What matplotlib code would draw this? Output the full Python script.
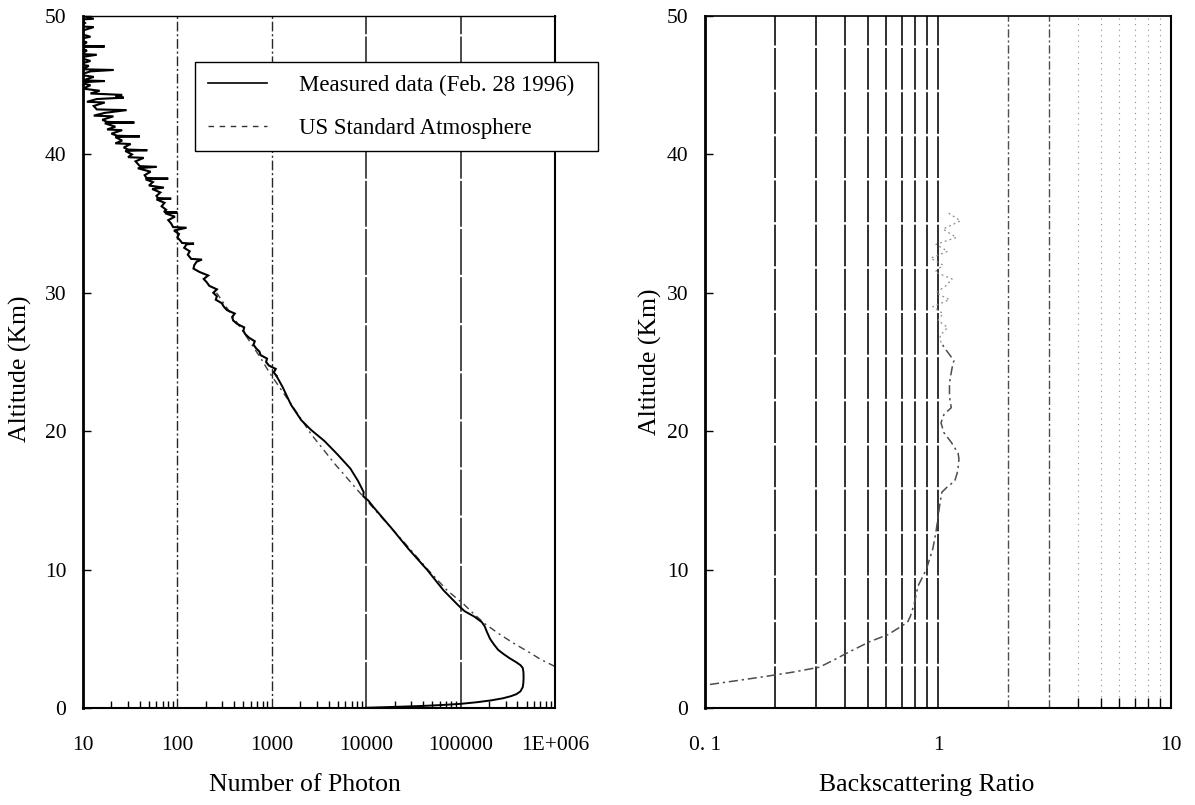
import matplotlib
matplotlib.use('Agg')
import matplotlib.pyplot as plt
from matplotlib.lines import Line2D
from matplotlib.ticker import FixedLocator, NullFormatter, NullLocator

plt.rcParams['font.family'] = ['Liberation Serif', 'DejaVu Serif']

# ---------------- data ----------------
# measured photon counts, lower (smooth) part
meas_alt_low = [0.02, 0.08, 0.15, 0.22, 0.3, 0.42, 0.55, 0.7, 0.85, 1.0, 1.2, 1.5,
                1.8, 2.2, 2.6, 2.9, 3.1, 3.3, 3.6, 3.9, 4.2, 4.6, 5.0, 5.5, 5.9,
                6.2, 6.6, 7.0, 7.4, 8.5, 10.0, 11.5, 13.0, 14.5, 15.0, 15.3, 15.6,
                16.4, 17.3, 18.3, 19.3, 20.1, 20.8, 21.9, 23.2, 24.0]
meas_photon_low = [10000, 20000, 40000, 65000, 100000, 150000, 210000, 280000,
                   340000, 390000, 430000, 455000, 462000, 465000, 463000, 455000,
                   430000, 390000, 330000, 285000, 250000, 225000, 205000, 190000,
                   180000, 168000, 140000, 110000, 95000, 66000, 44000, 28000,
                   18500, 12000, 10500, 9300, 9400, 8200, 6800, 5000, 3600, 2600,
                   2050, 1600, 1300, 1120]

# measured photon counts, upper (noisy) part
meas_alt_high = [24.0, 24.25, 24.5, 24.75, 25.0, 25.25, 25.5, 25.75, 26.0, 26.25,
                 26.5, 26.75, 27.0, 27.25, 27.5, 27.75, 28.0, 28.25, 28.5, 28.75,
                 29.0, 29.25, 29.5, 29.75, 30.0, 30.25, 30.5, 30.75, 31.0, 31.25,
                 31.5, 31.75, 32.0, 32.25, 32.4, 32.45, 32.75, 33.0, 33.25, 33.5,
                 33.55, 33.6, 33.75, 34.0, 34.25, 34.5, 34.7, 34.75, 35.0, 35.25,
                 35.5, 35.75, 35.8, 35.85, 36.0, 36.25, 36.5, 36.75, 36.8, 36.85,
                 37.0, 37.25, 37.5, 37.6, 37.75, 38.0, 38.2, 38.25, 38.3, 38.5,
                 38.75, 39.0, 39.1, 39.15, 39.5, 39.75, 39.8, 40.0, 40.25, 40.3,
                 40.35, 40.5, 40.75, 40.8, 41.0, 41.25, 41.3, 41.35, 41.5, 41.75,
                 41.8, 42.0, 42.25, 42.3, 42.35, 42.5, 42.75, 42.8, 43.0, 43.2,
                 43.25, 43.5, 43.75, 43.8, 44.0, 44.1, 44.2, 44.3, 44.4, 44.6,
                 44.75, 45.0, 45.2, 45.3, 45.35, 45.6, 45.75, 46.0, 46.1, 46.15,
                 46.4, 46.5, 46.75, 47.0, 47.2, 47.25, 47.5, 47.75, 47.8, 47.85,
                 48.1, 48.3, 48.5, 48.75, 49.0, 49.2, 49.25, 49.5, 49.75, 49.8,
                 50.0]
meas_photon_high = [1120, 1050, 1100, 930, 870, 890, 760, 740, 680, 640,
                    660, 575, 525, 500, 510, 430, 390, 380, 405, 335,
                    310, 295, 255, 262, 240, 262, 218, 205, 190, 212,
                    172, 148, 151, 160, 182, 140, 129, 135, 118, 125,
                    150, 112, 108, 100, 104, 92, 125, 90, 86, 80,
                    94, 74, 100, 72, 76, 68, 73, 60, 86, 62,
                    60, 66, 54, 72, 50, 55, 46, 80, 47, 45,
                    52, 38, 60, 40, 36, 44, 30, 33, 28, 48,
                    30, 27, 32, 22, 26, 22, 40, 23, 20, 26,
                    18, 22, 17, 35, 18, 16, 21, 13, 17, 29,
                    14, 13, 17, 11, 14, 27, 22, 26, 12, 15,
                    10, 12, 9, 17, 10, 13, 9.2, 12, 21, 10,
                    11.5, 8.8, 12, 9, 14, 9.5, 11, 9, 17, 9.5,
                    11, 8.5, 12, 9, 10.5, 13, 9, 10.5, 9.5, 13,
                    10]

# US standard atmosphere
std_alt = [3.0, 3.5, 4.0, 4.7, 5.4, 6.1, 6.8, 7.5, 8.5, 10.0, 12.0, 14.0, 15.7,
           17.6, 19.8, 21.2, 22.1, 24.2, 25.3, 27.0, 30.0]
std_photon = [1000000, 710000, 540000, 360000, 250000, 180000, 138000, 108000,
              72000, 45000, 25000, 13600, 8200, 4700, 2600, 1900, 1550, 950, 760,
              520, 260]

# backscattering ratio
bsr_alt_low = [1.7, 2.0, 2.3, 2.6, 2.95, 3.5, 4.0, 4.8, 5.3, 5.8, 6.2, 6.6, 7.5,
               8.8, 10.0, 11.5, 12.7, 13.8, 14.8, 15.6, 16.0, 16.4, 17.0, 17.4,
               18.0, 18.4, 19.2, 19.9, 20.6, 21.2, 21.7, 22.5, 23.5, 24.6, 25.1,
               25.9, 26.4]
bsr_ratio_low = [0.105, 0.14, 0.185, 0.24, 0.31, 0.36, 0.41, 0.51, 0.61, 0.68,
                 0.74, 0.76, 0.79, 0.82, 0.89, 0.95, 0.98, 1.0, 1.02, 1.04, 1.1,
                 1.18, 1.21, 1.22, 1.23, 1.22, 1.14, 1.06, 1.03, 1.06, 1.14, 1.12,
                 1.12, 1.15, 1.17, 1.08, 1.03]
bsr_alt_high = [26.4, 26.9, 27.5, 28.0, 28.5, 29.0, 29.5, 30.0, 30.5, 31.0, 31.5,
                32.0, 32.5, 33.0, 33.5, 34.0, 34.6, 35.2, 35.8]
bsr_ratio_high = [1.03, 1.02, 1.1, 1.0, 1.05, 0.95, 1.12, 0.98, 1.08, 1.15, 0.97,
                  1.05, 0.93, 1.1, 0.98, 1.2, 1.05, 1.25, 1.1]

photon_ticks = [10, 100, 1000, 10000, 100000, 1000000]
photon_ticklabels = ['10', '100', '1000', '10000', '100000', '1E+006']
ratio_ticks = [0.1, 1, 10]
ratio_ticklabels = ['0. 1', '1', '10']
alt_ticks = [0, 10, 20, 30, 40, 50]
alt_ticklabels = ['0', '10', '20', '30', '40', '50']

photon_grid_dashdot = [100, 1000]
photon_grid_solid = [10000, 100000]
ratio_grid_dark = [0.2, 0.3, 0.4, 0.5, 0.6, 0.7, 0.8, 0.9, 1]
ratio_grid_mid = [2, 3]
ratio_grid_faint = [4, 5, 6, 7, 8, 9]
photon_minor = [20, 30, 40, 50, 60, 70, 80, 90,
                200, 300, 400, 500, 600, 700, 800, 900,
                2000, 3000, 4000, 5000, 6000, 7000, 8000, 9000,
                20000, 30000, 40000, 50000, 60000, 70000, 80000, 90000,
                200000, 300000, 400000, 500000, 600000, 700000, 800000, 900000]
ratio_minor = [4, 5, 6, 7, 8, 9]

# ---------------- figure ----------------
W, H = 1195, 805
fig = plt.figure(figsize=(W / 100, H / 100), dpi=100)
ax1 = fig.add_axes([83 / W, 1 - 708 / H, 472 / W, 692 / H])
ax2 = fig.add_axes([705 / W, 1 - 708 / H, 466 / W, 692 / H])

TICK_FS = 15.5
LABEL_FS = 18.5

# ---- left panel ----
ax1.set_xscale('log')
ax1.set_xlim(10, 1e6)
ax1.set_ylim(0, 50)
for v in photon_grid_dashdot:
    ax1.axvline(v, color='0.15', lw=1.0, ls=(0, (7, 2, 1.5, 2)), zorder=1)
for v in photon_grid_solid:
    ax1.axvline(v, color='0.1', lw=1.1, ls=(0, (30, 1.5)), zorder=1)

ax1.plot(meas_photon_low, meas_alt_low, color='black', lw=1.4, zorder=3)
ax1.plot(meas_photon_high, meas_alt_high, color='black', lw=1.5,
         solid_joinstyle='miter', zorder=3)
ax1.plot(std_photon, std_alt, color='0.25', lw=1.0, ls=(0, (5, 3, 1.5, 3)), zorder=2)

ax1.xaxis.set_major_locator(FixedLocator(photon_ticks))
ax1.set_xticklabels(photon_ticklabels)
ax1.xaxis.set_minor_locator(FixedLocator(photon_minor))
ax1.xaxis.set_minor_formatter(NullFormatter())
ax1.yaxis.set_major_locator(FixedLocator(alt_ticks))
ax1.set_yticklabels(alt_ticklabels)
ax1.yaxis.set_minor_locator(NullLocator())
ax1.tick_params(axis='x', which='major', direction='in', length=0, pad=20,
                labelsize=TICK_FS)
ax1.tick_params(axis='x', which='minor', direction='in', length=5, width=1.0)
ax1.tick_params(axis='y', which='major', direction='in', length=6, width=1.0,
                pad=12, labelsize=TICK_FS)
ax1.set_xlabel('Number of Photon', fontsize=LABEL_FS)
ax1.set_ylabel('Altitude (Km)', fontsize=LABEL_FS)
ax1.xaxis.set_label_coords(0.47, -0.095)
ax1.yaxis.set_label_coords(-0.108, 0.49)
ax1.spines['left'].set_linewidth(2.0)
ax1.spines['bottom'].set_linewidth(1.5)
ax1.spines['right'].set_linewidth(1.5)
ax1.spines['top'].set_linewidth(1.0)

# ---- right panel ----
ax2.set_xscale('log')
ax2.set_xlim(0.1, 10)
ax2.set_ylim(0, 50)
for v in ratio_grid_dark:
    ax2.axvline(v, color='0.05', lw=1.2, ls=(0, (25, 1.5)), zorder=1)
for v in ratio_grid_mid:
    ax2.axvline(v, color='0.3', lw=1.0, ls=(0, (6, 2, 1.5, 2)), zorder=1)
for v in ratio_grid_faint:
    ax2.axvline(v, color='0.55', lw=0.8, ls=(0, (1, 4)), zorder=1)

ax2.plot(bsr_ratio_low, bsr_alt_low, color='0.3', lw=1.1,
         ls=(0, (6, 2.5, 1.5, 2.5)), zorder=3)
ax2.plot(bsr_ratio_high, bsr_alt_high, color='0.55', lw=0.9,
         ls=(0, (1.5, 2.5)), zorder=3)

ax2.xaxis.set_major_locator(FixedLocator(ratio_ticks))
ax2.set_xticklabels(ratio_ticklabels)
ax2.xaxis.set_minor_locator(FixedLocator(ratio_minor))
ax2.xaxis.set_minor_formatter(NullFormatter())
ax2.yaxis.set_major_locator(FixedLocator(alt_ticks))
ax2.set_yticklabels(alt_ticklabels)
ax2.yaxis.set_minor_locator(NullLocator())
ax2.tick_params(axis='x', which='major', direction='in', length=0, pad=20,
                labelsize=TICK_FS)
ax2.tick_params(axis='x', which='minor', direction='in', length=7, width=1.0)
ax2.tick_params(axis='y', which='major', direction='in', length=6, width=1.0,
                pad=12, labelsize=TICK_FS)
ax2.set_xlabel('Backscattering Ratio', fontsize=LABEL_FS)
ax2.set_ylabel('Altitude (Km)', fontsize=LABEL_FS)
ax2.xaxis.set_label_coords(0.476, -0.095)
ax2.yaxis.set_label_coords(-0.092, 0.5)
ax2.spines['left'].set_linewidth(2.0)
ax2.spines['bottom'].set_linewidth(1.5)
ax2.spines['right'].set_linewidth(1.5)
ax2.spines['top'].set_linewidth(1.2)

# ---- legend ----
handles = [Line2D([], [], color='black', lw=1.2),
           Line2D([], [], color='0.2', lw=1.0, ls=(0, (4, 4)))]
labels = ['Measured data (Feb. 28 1996)', 'US Standard Atmosphere']
leg = fig.legend(handles, labels, loc='upper left',
                 bbox_to_anchor=(195 / W, 1 - 152 / H, 403 / W, 90 / H),
                 mode='expand', fontsize=16.5, handlelength=2.6,
                 handletextpad=1.4, labelspacing=0.95, borderpad=0.55,
                 borderaxespad=0, fancybox=False, framealpha=1.0,
                 edgecolor='black')
leg.get_frame().set_linewidth(1.0)

fig.savefig('out.png', dpi=100)
